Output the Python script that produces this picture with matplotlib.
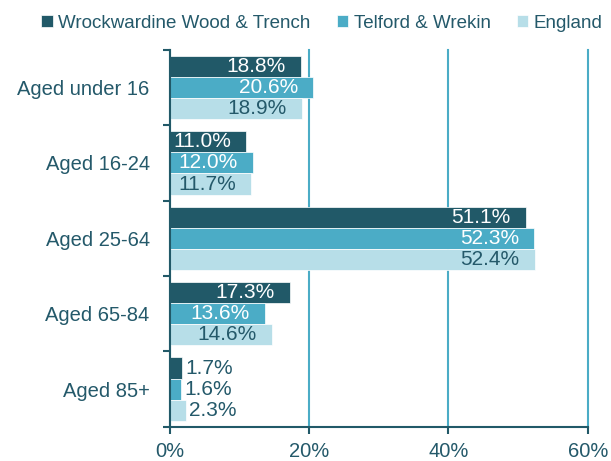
import matplotlib.pyplot as plt
import numpy as np

plt.rcParams['font.family'] = ['Liberation Sans', 'DejaVu Sans']

categories = ['Aged under 16', 'Aged 16-24', 'Aged 25-64', 'Aged 65-84', 'Aged 85+']
ward = [18.8, 11.0, 51.1, 17.3, 1.7]
telford = [20.6, 12.0, 52.3, 13.6, 1.6]
england = [18.9, 11.7, 52.4, 14.6, 2.3]
series_names = ['Wrockwardine Wood & Trench', 'Telford & Wrekin', 'England']

dark = '#215968'
mid = '#4BACC6'
light = '#B7DEE8'
text_col = '#24596A'

fig = plt.figure(figsize=(6.11, 4.61), dpi=100)
ax = fig.add_axes([0.278, 0.074, 0.684, 0.818])

y = np.arange(len(categories))
h = 0.28
series = [ward, telford, england]
colors = [dark, mid, light]
inside_col = ['white', 'white', text_col]

for k in range(3):
    pos = y - h + k * h
    ax.barh(pos, series[k], height=h, color=colors[k], edgecolor='white',
            linewidth=0.5, label=series_names[k], zorder=2)
    for yy, v in zip(pos, series[k]):
        if v > 5:
            ax.text(v - 2.2, yy, '%.1f%%' % v, ha='right', va='center',
                    fontsize=15, color=inside_col[k], zorder=3)
        else:
            ax.text(v + 0.5, yy, '%.1f%%' % v, ha='left', va='center',
                    fontsize=15, color=text_col, zorder=3)

ax.set_xlim(0, 60)
ax.set_ylim(len(categories) - 0.5, -0.5)
ax.set_xticks([0, 20, 40, 60])
ax.set_xticklabels(['0%', '20%', '40%', '60%'])
ax.set_yticks(y)
ax.set_yticklabels(categories)
ax.set_yticks(np.arange(-0.5, len(categories)), minor=True)

ax.xaxis.grid(True, color=mid, linewidth=1.5, zorder=0)
for gl in ax.get_xgridlines():
    gl.set_clip_on(False)
ax.set_axisbelow(True)

for s in ['top', 'right']:
    ax.spines[s].set_visible(False)
for s in ['left', 'bottom']:
    ax.spines[s].set_color(dark)
    ax.spines[s].set_linewidth(1.5)

ax.tick_params(axis='y', which='major', length=0, pad=14.5, labelsize=14.5, labelcolor=text_col)
ax.tick_params(axis='y', which='minor', length=5, width=1.5, color=dark)
ax.tick_params(axis='x', length=5, width=1.5, color=dark, labelsize=14.5,
               labelcolor=text_col, pad=6)

fig.legend(loc='upper center', bbox_to_anchor=(0.527, 1.005), ncol=3, frameon=False,
           fontsize=13.5, labelcolor=text_col, handlelength=0.6, handleheight=0.6,
           handletextpad=0.3, columnspacing=1.4)

plt.savefig('out.png', dpi=100)
